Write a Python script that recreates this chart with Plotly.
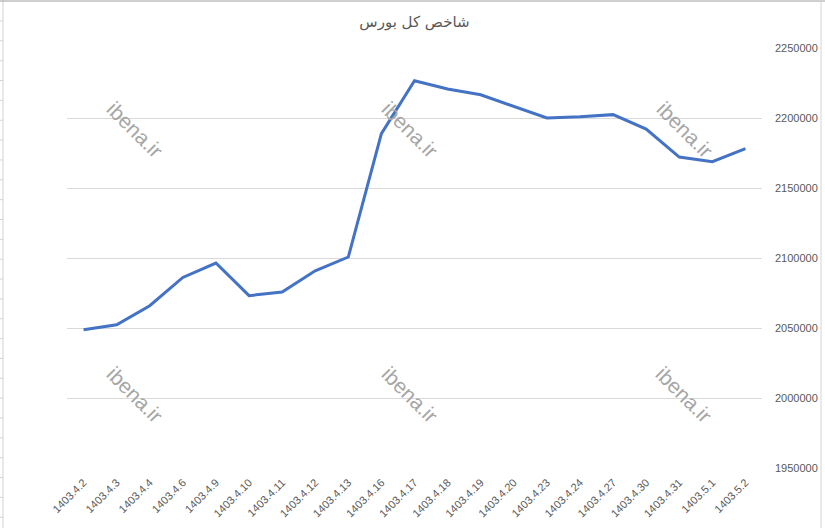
import plotly.graph_objects as go

title_text = "شاخص کل بورس"
dates = ["1403.4.2", "1403.4.3", "1403.4.4", "1403.4.6", "1403.4.9", "1403.4.10",
         "1403.4.11", "1403.4.12", "1403.4.13", "1403.4.16", "1403.4.17", "1403.4.18",
         "1403.4.19", "1403.4.20", "1403.4.23", "1403.4.24", "1403.4.27", "1403.4.30",
         "1403.4.31", "1403.5.1", "1403.5.2"]
index_values = [2048800, 2052300, 2065900, 2086100, 2096400, 2073100,
                2075700, 2090900, 2100700, 2188800, 2226600, 2220700,
                2216600, 2208300, 2200000, 2200900, 2202400, 2192100,
                2172100, 2168800, 2178100]
y_ticks = [1950000, 2000000, 2050000, 2100000, 2150000, 2200000, 2250000]
watermark = "ibena.ir"

W, H = 825, 528
L, R, T, B = 67, 63, 48, 60
PW, PH = W - L - R, H - T - B


def px(x):
    return (x - L) / PW


def py(y):
    return (H - B - y) / PH


fig = go.Figure()
fig.add_trace(go.Scatter(
    x=dates, y=index_values, mode="lines",
    line=dict(color="#4472C4", width=3),
    hoverinfo="x+y", showlegend=False,
))

annotations = []
for wx, wy in [(135, 129), (410, 129), (685, 129), (135, 394), (410, 394), (684, 394)]:
    annotations.append(dict(
        x=px(wx), y=py(wy), xref="paper", yref="paper", text=watermark,
        showarrow=False, textangle=45,
        font=dict(family="Liberation Sans, Arial, sans-serif", size=21, color="#a6a6a6"),
        xanchor="center", yanchor="middle",
    ))

shapes = []
grid_col = "#d4d4d4"
# spreadsheet frame artifacts
shapes.append(dict(type="line", xref="paper", yref="paper",
                   x0=px(3), x1=px(3), y0=py(0), y1=py(H), line=dict(color=grid_col, width=1)))
shapes.append(dict(type="line", xref="paper", yref="paper",
                   x0=px(0), x1=px(W), y0=py(1), y1=py(1), line=dict(color="#a0a0a0", width=1)))
shapes.append(dict(type="line", xref="paper", yref="paper",
                   x0=px(821), x1=px(821), y0=py(0), y1=py(H), line=dict(color=grid_col, width=1)))
row_y = 21.0
while row_y < H:
    shapes.append(dict(type="line", xref="paper", yref="paper",
                       x0=px(0), x1=px(3), y0=py(row_y), y1=py(row_y),
                       line=dict(color=grid_col, width=1)))
    row_y += 19.85

fig.update_layout(
    width=W, height=H,
    margin=dict(l=L, r=R, t=T, b=B, autoexpand=False),
    paper_bgcolor="white", plot_bgcolor="white",
    title=dict(text=title_text, x=0.5, xref="paper", xanchor="center",
               y=1 - 22 / H, yanchor="middle",
               font=dict(family="DejaVu Sans, sans-serif", size=15, color="#595959")),
    xaxis=dict(type="category", range=[-0.5, len(dates) - 0.5], automargin=False,
               showgrid=False, showline=False, zeroline=False,
               tickangle=-45, ticks="", ticklabelstandoff=5,
               tickfont=dict(family="Liberation Sans, Arial, sans-serif", size=11, color="#595959")),
    yaxis=dict(side="right", range=[y_ticks[0], y_ticks[-1]], tickvals=y_ticks, automargin=False,
               tickformat="d", showgrid=True, gridcolor="#d9d9d9", gridwidth=1,
               zeroline=False, showline=False, ticks="", ticklabelstandoff=12,
               tickfont=dict(family="Liberation Sans, Arial, sans-serif", size=11, color="#595959")),
    annotations=annotations,
    shapes=shapes,
)

fig.write_html("out.html", config={"displayModeBar": False},
               post_script="document.body.style.margin='0px';document.body.style.overflow='hidden';")
